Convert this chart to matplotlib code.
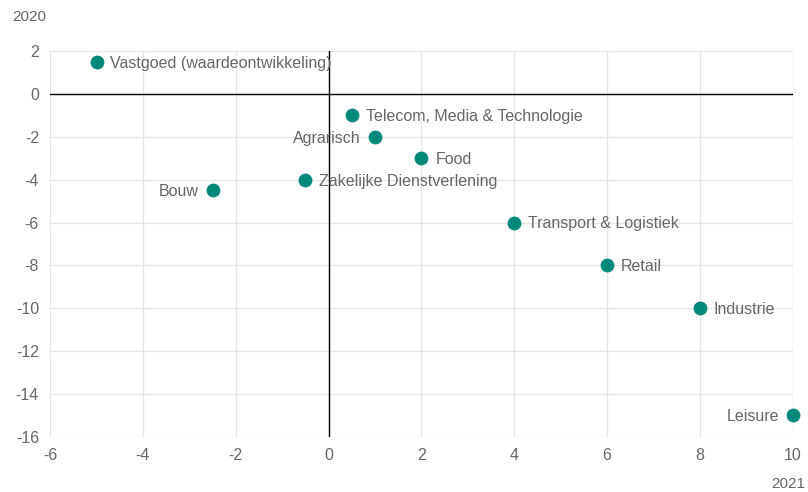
import matplotlib.pyplot as plt

plt.rcParams['font.family'] = ['Liberation Sans', 'DejaVu Sans']
plt.rcParams['axes.unicode_minus'] = False

# sectoren met groei 2021 (x) en 2020 (y)
sectors = ["Vastgoed (waardeontwikkeling)", "Telecom, Media & Technologie", "Agrarisch",
           "Food", "Zakelijke Dienstverlening", "Bouw", "Transport & Logistiek",
           "Retail", "Industrie", "Leisure"]
x2021 = [-5, 0.5, 1, 2, -0.5, -2.5, 4, 6, 8, 10]
y2020 = [1.5, -1, -2, -3, -4, -4.5, -6, -8, -10, -15]
label_left = ["Agrarisch", "Bouw", "Leisure"]

teal = "#00897b"
grey = "#666666"

fig = plt.figure(figsize=(8.08, 4.92), dpi=100)
ax = fig.add_axes([0.062, 0.112, 0.919, 0.784])

ax.set_xlim(-6, 10)
ax.set_ylim(-16, 2)
ax.set_xticks(range(-6, 11, 2))
ax.set_yticks(range(-16, 3, 2))
ax.grid(True, color="#e6e6e6", linewidth=1)
ax.set_axisbelow(True)
for s in ax.spines.values():
    s.set_visible(False)
ax.tick_params(length=0, colors=grey, labelsize=11.5, pad=8)

ax.axhline(0, color="black", linewidth=1, zorder=1)
ax.axvline(0, color="black", linewidth=1, zorder=1)

ax.scatter(x2021, y2020, s=80, color=teal, zorder=3, clip_on=False)
for name, x, y in zip(sectors, x2021, y2020):
    if name in label_left:
        ax.annotate(name, (x, y), xytext=(-10, -1), textcoords="offset points",
                    ha="right", va="center", color=grey, fontsize=11.5, zorder=2)
    else:
        ax.annotate(name, (x, y), xytext=(10, -1), textcoords="offset points",
                    ha="left", va="center", color=grey, fontsize=11.5, zorder=2)

fig.text(12 / 808, 1 - 17 / 492, "2020", color=grey, fontsize=11, va="center", ha="left")
fig.text(805 / 808, 1 - 484 / 492, "2021", color=grey, fontsize=11, va="center", ha="right")

fig.savefig("out.png", dpi=100)
